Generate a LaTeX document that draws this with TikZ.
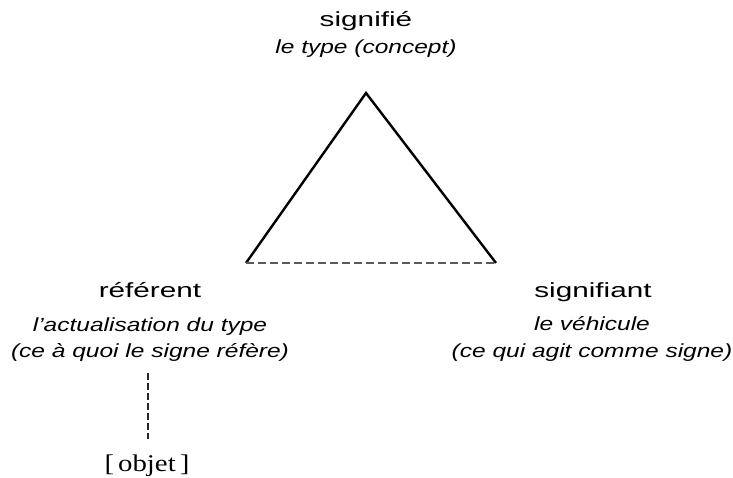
\documentclass[tikz,border=0pt]{standalone}
\usepackage{fontspec}
\newfontfamily\polefont{Liberation Sans}[FakeStretch=1.45]
\newfontfamily\glossfont{Liberation Sans}[FakeStretch=1.29]
\newfontfamily\objetfont{Liberation Serif}[FakeStretch=1.2]
\usetikzlibrary{positioning, calc}

\begin{document}
\begin{tikzpicture}[
    x=1pt,y=-1pt,
    pole/.style={anchor=base, inner sep=0pt, font={\polefont\fontsize{20.5}{24}\selectfont}},
    gloss/.style={anchor=base, inner sep=0pt, font={\glossfont\fontsize{19}{23}\selectfont\itshape}},
    side/.style={line width=2.4pt, black},
    dashside/.style={line width=1.6pt, gray!70!black, dash pattern=on 8pt off 4pt},
    dashlink/.style={line width=1.1pt, black!85, dash pattern=on 7pt off 3pt}
]
    \useasboundingbox (0,0) rectangle (733,478);

    % ================= TRIANGLE =================
    \coordinate (apex) at (366,93);
    \coordinate (refcorner) at (246,263);
    \coordinate (sigcorner) at (496,263);

    \draw[side] (refcorner) -- (apex) -- (sigcorner);
    \draw[dashside] (refcorner) -- (sigcorner);

    % ================= SIGNIFIE =================
    \node[pole] (signifie) at (366,27) {signifié};
    \node[gloss] (type) at (366,54) {le type (concept)};

    % ================= REFERENT =================
    \node[pole] (referent) at (150,298) {référent};
    \node[gloss] (actual) at (150,331) {l’actualisation du type};
    \node[gloss] (refere) at (150,357) {(ce à quoi le signe réfère)};

    % ================= SIGNIFIANT =================
    \node[pole] (signifiant) at (593,297) {signifiant};
    \node[gloss] (vehicule) at (592,330) {le véhicule};
    \node[gloss] (agit) at (592,357) {(ce qui agit comme signe)};

    % ================= OBJET =================
    \node[anchor=base, inner sep=0pt, font={\objetfont\fontsize{24}{28}\selectfont}] (objet) at (147,471) {[\,objet\,]};
    \coordinate (objtop) at (148,373);
    \draw[dashlink, shorten >=15pt] (objtop) -- (objtop |- objet.north);

\end{tikzpicture}
\end{document}
